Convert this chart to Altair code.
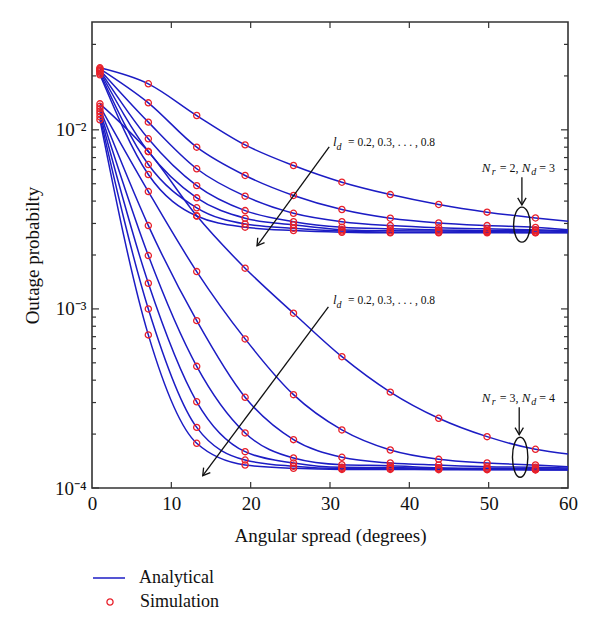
import altair as alt
import pandas as pd

SERIF = "Liberation Serif"
BLUE = "#1c1cc4"
RED = "#e8202a"
W, H = 476, 466

# simulation x positions (degrees) and line end
x_sim = [1, 7.1, 13.2, 19.3, 25.4, 31.5, 37.6, 43.7, 49.8, 55.9]
x_line = x_sim + [60]
ld_values = ["0.2", "0.3", "0.4", "0.5", "0.6", "0.7", "0.8"]

# Nr = 2, Nd = 3 (values at x_line)
fam_a = {
    "0.2": [0.0222, 0.01807, 0.01202, 0.00824, 0.00632, 0.00510, 0.00435, 0.00383, 0.00347, 0.00322, 0.00309],
    "0.3": [0.0219, 0.01415, 0.00800, 0.00556, 0.00430, 0.00359, 0.00321, 0.00302, 0.00292, 0.00285, 0.00277],
    "0.4": [0.0216, 0.01104, 0.00606, 0.00426, 0.00342, 0.00307, 0.00292, 0.00284, 0.00280, 0.00277, 0.00273],
    "0.5": [0.0214, 0.00891, 0.00488, 0.00354, 0.00307, 0.00286, 0.00280, 0.00276, 0.00274, 0.00273, 0.00270],
    "0.6": [0.0211, 0.00756, 0.00417, 0.00321, 0.00295, 0.00277, 0.00273, 0.00272, 0.00270, 0.00269, 0.00268],
    "0.7": [0.0207, 0.00640, 0.00367, 0.00298, 0.00282, 0.00272, 0.00268, 0.00268, 0.00268, 0.00267, 0.00267],
    "0.8": [0.0203, 0.00563, 0.00330, 0.00286, 0.00274, 0.00268, 0.00266, 0.00266, 0.00266, 0.00266, 0.00266],
}
# Nr = 3, Nd = 4 (values at x_line)
fam_b = {
    "0.2": [0.01397, 0.00756, 0.00331, 0.001688, 0.000946, 0.000541, 0.000343, 0.000245, 0.0001935, 0.0001645, 0.0001548],
    "0.3": [0.01353, 0.00452, 0.001616, 0.000680, 0.000332, 0.000211, 0.000163, 0.0001446, 0.0001379, 0.0001344, 0.0001315],
    "0.4": [0.01310, 0.00292, 0.000860, 0.000321, 0.0001862, 0.0001484, 0.0001379, 0.0001344, 0.0001315, 0.0001305, 0.0001293],
    "0.5": [0.01269, 0.001985, 0.000478, 0.000203, 0.0001471, 0.0001349, 0.0001332, 0.0001298, 0.0001288, 0.0001282, 0.0001277],
    "0.6": [0.01229, 0.001391, 0.000303, 0.0001595, 0.0001379, 0.0001305, 0.0001302, 0.0001285, 0.0001277, 0.0001272, 0.0001269],
    "0.7": [0.01182, 0.001000, 0.000218, 0.0001433, 0.0001322, 0.0001285, 0.0001285, 0.0001277, 0.0001269, 0.0001266, 0.0001264],
    "0.8": [0.01137, 0.000716, 0.0001777, 0.0001344, 0.0001288, 0.0001269, 0.0001269, 0.0001266, 0.0001266, 0.0001261, 0.0001261],
}

x_labels = [0, 10, 20, 30, 40, 50, 60]
x_ticks = [10, 20, 30, 40, 50]
y_major = [1e-4, 1e-3, 1e-2]
y_minor = [2e-4, 3e-4, 4e-4, 5e-4, 6e-4, 7e-4, 8e-4, 9e-4,
           2e-3, 3e-3, 4e-3, 5e-3, 6e-3, 7e-3, 8e-3, 9e-3,
           2e-2, 3e-2]

line_rows, pt_rows = [], []
for fam, d in (("A", fam_a), ("B", fam_b)):
    for ld in ld_values:
        for i, (xx, vv) in enumerate(zip(x_line, d[ld])):
            line_rows.append({"x": xx, "v": vv, "curve": fam + ld, "kind": "Analytical"})
            if i < len(x_sim):
                pt_rows.append({"x": xx, "v": vv, "curve": fam + ld, "kind": "Simulation"})
lines_df = pd.DataFrame(line_rows)
pts_df = pd.DataFrame(pt_rows)

xs = alt.Scale(domain=[0, 60], nice=False, zero=False)
ys = alt.Scale(type="log", domain=[1e-4, 0.04], nice=False)

label_expr = "datum.value < 0.0005 ? '10⁻⁴' : (datum.value < 0.005 ? '10⁻³' : '10⁻²')"

XAX = alt.Axis(
    values=x_labels, title="Angular spread (degrees)",
    ticks=False, domain=False, grid=False, labelFlush=False, labelOverlap=False,
    labelFont=SERIF, labelFontSize=19, labelPadding=6, labelColor="#111",
    titleFont=SERIF, titleFontSize=19, titleFontWeight="normal", titlePadding=13, titleColor="#111")
YAX = alt.Axis(
    values=y_major, labelExpr=label_expr, title="Outage probabilty",
    ticks=False, domain=False, grid=False, labelOverlap=False,
    labelFont=SERIF, labelFontSize=19, labelPadding=6, labelColor="#111",
    titleFont=SERIF, titleFontSize=19, titleFontWeight="normal", titlePadding=12, titleColor="#111")

def X(field="x"):
    return alt.X(f"{field}:Q", scale=xs, axis=XAX, title="Angular spread (degrees)")

def Y(field="v"):
    return alt.Y(f"{field}:Q", scale=ys, axis=YAX, title="Outage probabilty")

lines = alt.Chart(lines_df).mark_line(strokeWidth=1.5, interpolate="monotone").encode(
    x=X(), y=Y(),
    detail="curve:N",
    color=alt.Color("kind:N", scale=alt.Scale(domain=["Analytical"], range=[BLUE]),
                    legend=alt.Legend(title=None, orient="none", legendX=0, legendY=539,
                                      symbolType="stroke", symbolSize=1024, symbolStrokeWidth=1.5,
                                      labelFont=SERIF, labelFontSize=18, labelOffset=13,
                                      labelColor="#111", padding=0)),
)

points = alt.Chart(pts_df).mark_point(filled=False, size=38, strokeWidth=1.3, opacity=1).encode(
    x=X(), y=Y(),
    stroke=alt.Stroke("kind:N", scale=alt.Scale(domain=["Simulation"], range=[RED]),
                      legend=alt.Legend(title=None, orient="none", legendX=9, legendY=571,
                                        symbolType="circle", symbolSize=38, symbolStrokeWidth=1.3,
                                        labelFont=SERIF, labelFontSize=18, labelOffset=21,
                                        labelColor="#111", padding=0)),
)

TICK = "#333"
def yticks(vals, length):
    df = pd.DataFrame({"v": vals})
    left = alt.Chart(df).mark_rule(color=TICK, strokeWidth=1.2).encode(
        y=Y(), x=alt.value(0), x2=alt.value(length))
    right = alt.Chart(df).mark_rule(color=TICK, strokeWidth=1.2).encode(
        y=Y(), x=alt.value(W - length), x2=alt.value(W))
    return [left, right]

xdf = pd.DataFrame({"x": x_ticks})
xt_bottom = alt.Chart(xdf).mark_rule(color=TICK, strokeWidth=1.2).encode(
    x=X(), y=alt.value(H), y2=alt.value(H - 6))
xt_top = alt.Chart(xdf).mark_rule(color=TICK, strokeWidth=1.2).encode(
    x=X(), y=alt.value(0), y2=alt.value(6))

# annotations
def text_piece(x, v, s, dx, dy, size, italic):
    return alt.Chart(pd.DataFrame({"x": [x], "v": [v]})).mark_text(
        text=s, dx=dx, dy=dy, align="left", baseline="alphabetic", font=SERIF,
        fontSize=size, fontStyle="italic" if italic else "normal", color="#111").encode(
        x=X(), y=Y())

def ld_label(x, v):
    return [text_piece(x, v, "l", 0, 0, 13, True),
            text_piece(x, v, "d", 3.5, 4, 10, True),
            text_piece(x, v, "= 0.2, 0.3, . . . , 0.8", 15, 0, 11.5, False)]

def n_label(x, v, nr, nd):
    return [text_piece(x, v, "N", 0, 0, 13, True),
            text_piece(x, v, "r", 10, 3, 10, True),
            text_piece(x, v, "= " + nr + ",", 18, 0, 12, False),
            text_piece(x, v, "N", 40, 0, 13, True),
            text_piece(x, v, "d", 49.5, 3, 10, True),
            text_piece(x, v, "= " + nd, 57.5, 0, 12, False)]

annots = []
annots += ld_label(30.39, 0.00814)
annots += ld_label(30.39, 0.001067)
annots += n_label(49.14, 0.0058, "2", "3")
annots += n_label(49.14, 0.000301, "3", "4")

arrows_df = pd.DataFrame({
    "x": [29.9, 29.8, 54.19, 53.85],
    "v": [0.00804, 0.001026, 0.00544, 0.000282],
    "x2": [20.8, 13.96, 54.19, 53.85],
    "v2": [0.00225, 0.0001171, 0.00381, 0.0001985],
})
shafts = alt.Chart(arrows_df).mark_rule(color="#111", strokeWidth=1.3).encode(
    x=X(), y=Y(), x2="x2:Q", y2="v2:Q")

CHEVRON = "M-0.6,-1L0,0L0.6,-1"
def head(x, v, ang):
    return alt.Chart(pd.DataFrame({"x": [x], "v": [v]})).mark_point(
        shape=CHEVRON, size=196, filled=False, color="#111", strokeWidth=1.3,
        opacity=1, angle=ang).encode(x=X(), y=Y())

heads = [head(20.8, 0.00225, 36), head(13.96, 0.0001171, 37),
         head(54.19, 0.00381, 0), head(53.85, 0.0001985, 0)]

def ellipse(x, v, rx, size):
    path = f"M0,-1A{rx},1,0,1,1,0,1A{rx},1,0,1,1,0,-1Z"
    return alt.Chart(pd.DataFrame({"x": [x], "v": [v]})).mark_point(
        shape=path, size=size, filled=False, color="#111", strokeWidth=1.4, opacity=1).encode(
        x=X(), y=Y())

ellipses = [ellipse(54.19, 0.002954, 0.476, 1225), ellipse(53.97, 0.0001485, 0.385, 1600)]

layers = [lines, points] + yticks(y_major, 7) + yticks(y_minor, 4) + [xt_bottom, xt_top, shafts] \
    + heads + ellipses + annots

chart = alt.layer(*layers).properties(
    width=W, height=H,
    padding={"left": 84, "top": 14, "right": 24, "bottom": 136},
    autosize=alt.AutoSizeParams(type="none"),
).configure_view(stroke="#333", strokeWidth=1.6)

chart.save("out.html", embed_options={"renderer": "svg", "actions": False})
